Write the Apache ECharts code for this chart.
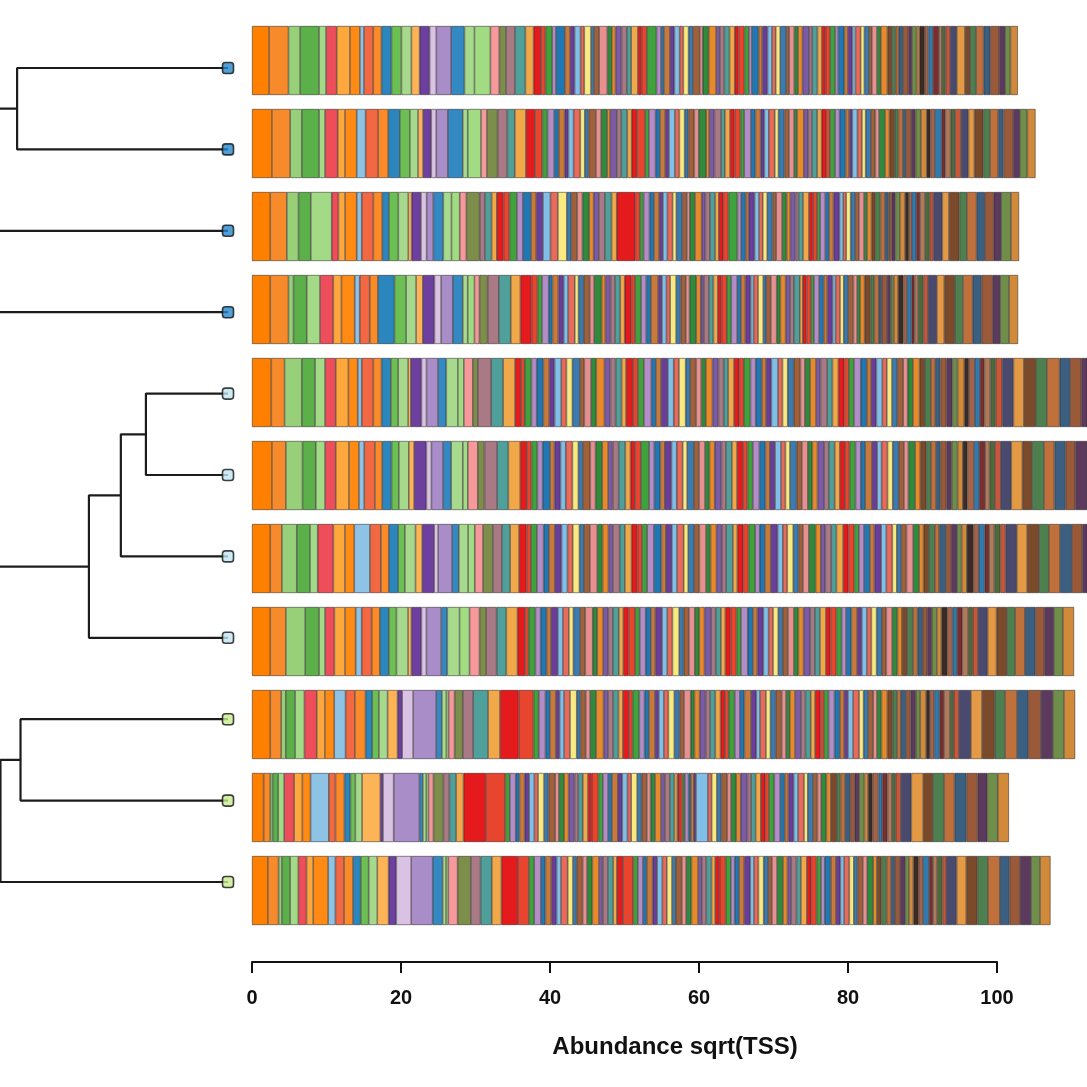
<!DOCTYPE html>
<html>
<head>
<meta charset="utf-8">
<title>Abundance sqrt(TSS)</title>
<script src="https://cdn.jsdelivr.net/npm/echarts@6/dist/echarts.min.js"></script>
<style>
html,body{margin:0;padding:0;background:#fff}
#main{width:1087px;height:1087px}
</style>
</head>
<body>
<div id="main"></div>
<script>
// x axis ticks
var tickValues=[0,20,40,60,80,100];
var axisTitle="Abundance sqrt(TSS)";

// dendrogram (hclust style merges, negative = leaf in plotted order)
var leafGroup=[0,0,0,0,1,1,1,1,2,2,2];
var merges=[[-1,-2],[-5,-6],[2,-7],[3,-8],[-9,-10],[5,-11],[1,-3],[7,-4],[4,6],[8,9]];
var mergeHeights=[0.925,0.36,0.47,0.61,0.91,0.998,1.06,1.12,1.08,1.25];

// taxa colours : first 23 read one by one, rest follow the figure's palette
var headColors=['#ff7f00','#f78b2c','#98d07a','#5cb04a','#a3da85','#ee4e5a','#fda73d','#ff8a14','#8ec3e6','#f26843','#fb8b28','#2c86be','#6cbf52','#a6d98c','#fdb456','#6d3f9e','#d9c2e3','#a98dc9','#3489c2','#a8da8d','#a2dc82','#f7989b','#7d8d4a'];
var brightColors=['#a97a86','#4f9f9a','#f0a848','#e41a1c','#e8452f','#3fa23c','#b48cc8','#1f78b4','#c97a3a','#6a3d9a','#7fbfe8','#e86a5a','#f8ea80','#3a7bb0','#a0603a','#e89090','#2f8a3a','#e8892a','#7b5aa6'];
var darkColors=['#7a4a2a','#4e7f4e','#c0703a','#3a5f80','#9a5a3a','#5c3a5e','#6e8e4a','#d08a3a','#3b2b25','#a5644a','#2f7aae','#7a2e2e','#b07a5a','#4d6b3a','#c8563a','#4a4a6e','#e49a45'];
var groupColors=['#2587cc','#c2e6f3','#c9ec90'];

// abundance of each taxon, one array per sample (top to bottom)
var s01=[2.3,2.6,1.56,2.54,0.94,1.43,1.78,1.34,0.54,1.25,1.1,1.34,1.34,1.34,1.1,1.34,0.9,2.0,1.78,1.34,2.14,1.2,0.9,
1.2,1.4,1.1,1.0,0.6,0.9,0.5,1.2,0.7,0.6, 0.8,0.5,0.9,0.4,0.7,1.1,0.6,0.5,0.8,0.7, 0.6,0.9,0.5,0.7,1.3,0.6,0.4,0.8,0.6,0.7, 0.5,0.7,0.6,0.9,0.4,0.8,1.0,0.5,0.6,0.7, 0.7,0.5,0.8,0.6,0.4,0.9,0.5,0.7,0.6,0.5,
0.6,0.8,0.4,0.7,0.5,0.6,0.9,0.4,0.7,0.6, 0.5,0.6,0.7,0.4,0.8,0.5,0.6,0.4,0.7,0.5, 0.6,0.4,0.7,0.5,0.9,0.6,0.5,0.4,0.6,0.7, 0.5,0.6,0.4,0.7,0.5,0.6,0.8,0.4,0.5,0.6, 0.9,1.1,0.7,0.8,1.0,0.9,1.2,0.8,0.7,1.0];
var s02=[2.68,2.45,1.56,2.32,0.8,1.7,0.98,1.56,1.2,1.7,1.34,1.56,1.34,1.1,0.67,1.1,0.67,1.56,2.0,0.67,1.78,0.8,1.43,
1.3,1.0,1.5,1.2,1.0,0.7,0.9,0.6,0.8,0.5, 0.7,0.9,0.6,0.5,1.0,0.7,0.8,0.4,0.9,0.6, 0.8,0.6,0.7,1.1,0.5,0.9,0.6,0.7,0.5,0.8, 0.6,0.7,0.5,0.8,0.6,1.0,0.4,0.7,0.9,0.5, 0.7,0.6,0.8,0.5,0.9,0.6,0.7,0.5,0.6,0.8,
0.5,0.8,0.6,0.7,0.4,0.9,0.6,0.5,0.7,0.6, 0.6,0.5,0.7,0.6,0.8,0.5,0.4,0.7,0.6,0.5, 0.7,0.6,0.5,0.8,0.6,0.7,0.5,0.6,0.4,0.7, 0.6,0.7,0.8,0.5,0.6,0.9,0.5,0.7,0.6,0.8, 1.0,0.8,1.2,0.9,1.1,0.7,1.3,0.9,1.0,1.1];
var s03=[2.45,2.23,1.56,1.65,2.81,0.9,0.9,1.56,0.67,1.56,1.2,0.9,1.25,1.34,0.45,1.25,0.76,0.9,1.34,1.1,1.1,0.9,1.78,
0.7,0.9,0.7,0.9,0.8,1.0,0.8,1.1,0.7,0.9, 1.0,1.0,1.2,0.6,0.8,0.7,0.9,0.6,0.7,0.8, 0.9,0.7,2.5,0.6,0.5,0.8,0.6,0.7,0.5,0.6, 0.7,0.5,0.8,0.6,0.4,0.7,0.9,0.5,0.6,0.7, 0.5,0.6,0.7,1.2,0.5,0.6,0.4,0.8,0.6,0.5,
0.6,0.7,0.5,0.8,0.6,0.5,0.7,0.4,0.6,0.8, 0.5,0.6,0.4,0.7,0.5,0.6,0.8,0.5,0.4,0.6, 0.6,0.5,0.7,0.4,0.6,0.5,0.7,0.6,0.5,0.4, 0.5,0.6,0.7,0.5,0.4,0.6,0.5,0.7,0.6,0.5, 1.2,0.9,1.4,1.0,1.3,1.1,1.2,1.0,1.3,1.1];
var s04=[2.45,2.45,0.67,1.78,1.78,1.78,1.1,1.78,0.67,1.34,1.1,2.23,1.56,1.34,0.9,1.56,0.9,1.56,1.34,0.67,0.9,0.67,1.1,
1.5,1.6,1.3,1.5,0.8,0.6,0.9,0.5,0.8,0.7, 0.6,0.9,0.5,0.7,0.8,0.6,1.0,0.5,0.7,0.6, 0.7,0.6,0.9,0.5,0.8,0.7,0.6,1.0,0.5,0.6, 0.5,0.8,0.6,0.7,0.5,0.9,0.6,0.4,0.7,0.6, 0.6,0.5,0.7,0.6,0.8,0.5,0.6,0.7,0.4,0.6,
0.7,0.4,0.6,0.8,0.5,0.7,0.6,0.5,0.8,0.4, 0.5,0.6,0.4,0.7,0.6,0.5,0.7,0.4,0.6,0.5, 0.6,0.7,0.5,0.4,0.6,0.8,0.5,0.6,0.4,0.7, 0.5,0.4,0.6,0.7,0.5,0.6,0.4,0.5,0.7,0.6, 1.2,1.0,1.4,1.1,1.3,1.2,1.5,1.0,1.2,1.2];
var s05=[2.59,1.78,2.32,1.78,1.34,1.43,1.7,1.25,0.54,1.56,1.1,1.25,0.98,1.34,0.36,1.43,0.67,1.56,1.1,1.56,0.8,1.2,0.67,
1.8,1.6,1.6,0.8,0.5,0.9,0.7,0.9,0.8,0.7, 0.9,0.7,0.8,1.0,0.6,0.9,0.7,1.1,0.8,0.7, 0.8,0.6,0.9,0.7,0.8,1.0,0.6,0.7,0.9,0.8, 0.7,0.9,0.6,0.8,0.7,0.6,0.9,0.8,0.7,0.6, 0.8,0.7,0.6,0.9,0.7,0.8,0.6,0.7,0.9,0.6,
0.7,0.8,0.9,0.6,0.7,0.8,0.6,0.9,0.7,0.8, 0.8,0.6,0.7,0.9,0.8,0.6,0.7,0.8,0.6,0.7, 0.7,0.8,0.6,0.7,0.9,0.7,0.8,0.6,0.7,0.8, 0.8,0.7,0.9,0.6,0.8,0.7,0.6,0.8,0.7,0.9, 1.5,1.4,1.6,1.5,1.7,1.4,1.5,1.6,1.5,1.6];
var s06=[2.68,1.87,2.23,1.78,1.25,1.43,1.78,1.34,0.71,1.43,0.98,1.25,0.98,1.34,0.71,1.65,0.67,1.56,1.1,1.56,0.67,1.34,0.9,
1.7,1.5,1.6,0.9,0.6,0.8,0.7,1.0,0.6,0.8, 0.7,0.9,0.8,0.6,1.0,0.7,0.9,0.8,0.6,0.8, 0.9,0.7,0.6,0.8,1.1,0.7,0.8,0.6,0.9,0.7, 0.8,0.6,0.9,0.7,0.8,0.6,0.7,0.9,0.6,0.8, 0.7,0.8,0.6,0.7,0.9,0.8,0.6,0.7,0.8,0.6,
0.6,0.9,0.7,0.8,0.6,0.7,0.9,0.6,0.8,0.7, 0.7,0.6,0.8,0.7,0.6,0.9,0.7,0.6,0.8,0.7, 0.8,0.7,0.6,0.9,0.7,0.8,0.6,0.7,0.6,0.8, 0.7,0.8,0.7,0.6,0.9,0.7,0.8,0.6,0.7,0.8, 1.4,1.5,1.3,1.6,1.4,1.5,1.3,1.6,1.4,1.5];
var s07=[2.45,1.56,2.0,1.78,1.03,2.1,1.56,1.25,2.1,1.47,1.07,1.25,0.9,1.43,0.9,1.6,0.54,1.87,0.9,1.25,0.9,1.1,1.34,
1.2,1.1,1.2,1.0,0.6,0.8,0.9,0.7,0.8,0.9, 0.8,0.7,0.9,0.6,0.8,1.0,0.7,0.8,0.6,0.9, 0.7,0.9,0.8,0.6,0.7,0.9,1.0,0.6,0.8,0.7, 0.9,0.6,0.8,0.7,0.9,0.6,0.8,0.7,0.6,0.9, 0.6,0.8,0.7,0.9,0.6,0.7,0.8,0.9,0.7,0.6,
0.8,0.7,0.6,0.8,0.9,0.7,0.6,0.8,0.7,0.9, 0.7,0.8,0.6,0.7,0.8,0.6,0.9,0.7,0.8,0.6, 0.6,0.7,0.9,0.8,0.6,0.7,0.8,0.6,0.9,0.7, 0.8,0.6,0.7,0.9,0.7,0.8,0.6,0.7,0.8,0.7, 1.5,1.4,1.6,1.3,1.5,1.6,1.4,1.5,1.4,1.6];
var s08=[2.45,2.1,2.59,1.87,0.8,1.25,1.43,1.43,0.8,1.34,1.1,1.2,1.03,1.56,0.45,1.34,0.67,2.0,0.8,1.65,1.34,1.34,0.9,
1.4,1.3,1.5,1.0,0.5,0.9,0.7,0.8,0.6,0.9, 0.7,0.8,0.6,0.9,0.7,1.0,0.6,0.8,0.7,0.6, 0.8,0.6,0.7,0.9,0.6,0.8,0.7,0.6,0.9,0.7, 0.7,0.9,0.6,0.7,0.8,0.6,0.7,0.9,0.6,0.7, 0.6,0.7,0.8,0.6,0.9,0.7,0.6,0.8,0.7,0.6,
0.7,0.6,0.7,0.8,0.6,0.7,0.9,0.6,0.7,0.8, 0.6,0.8,0.7,0.6,0.7,0.8,0.6,0.7,0.6,0.7, 0.7,0.6,0.8,0.7,0.6,0.7,0.8,0.6,0.7,0.6, 0.6,0.7,0.6,0.8,0.7,0.6,0.7,0.8,0.6,0.7, 1.3,1.2,1.4,1.1,1.3,1.4,1.2,1.3,1.2,1.5];
var s09=[2.45,1.47,0.62,1.25,1.25,1.65,1.1,1.25,1.52,1.25,1.43,0.9,0.9,1.16,1.34,0.62,1.47,3.1,0.76,0.6,0.3,0.8,1.1,
1.4,2.0,1.6,2.5,2.0,0.7,0.9,0.6,0.8,0.5, 0.6,0.8,0.9,0.5,0.7,0.6,0.8,1.0,0.6,0.7, 0.7,0.6,0.8,0.5,0.9,0.7,0.6,0.8,0.5,0.7, 0.6,0.8,0.7,0.6,0.9,0.5,0.7,0.8,0.6,0.7, 0.7,0.6,0.5,0.8,0.7,0.6,0.9,0.7,0.5,0.8,
0.6,0.7,0.8,0.6,0.5,0.7,0.8,0.6,0.7,0.6, 0.7,0.5,0.6,0.8,0.7,0.6,0.5,0.7,0.8,0.6, 0.6,0.7,0.5,0.6,0.8,0.7,0.6,0.5,0.7,0.6, 0.7,0.6,0.8,0.5,0.6,0.7,0.6,0.8,0.5,0.7, 1.6,1.5,1.7,1.4,1.6,1.5,1.7,1.6,1.5,1.5];
var s10=[1.56,0.9,0.3,0.76,0.8,1.34,1.1,1.1,2.45,0.9,1.2,0.8,0.67,0.9,2.45,0.36,1.43,3.46,0.45,0.46,0.3,0.67,1.34,
0.8,0.9,1.0,3.0,2.6,0.6,0.8,0.5,0.7,0.6, 0.7,0.5,0.8,0.6,0.9,0.5,0.7,0.6,0.8,0.5, 0.6,0.7,0.5,0.9,0.6,0.7,0.5,0.8,0.6,0.7, 0.5,0.8,0.6,0.7,0.5,0.6,0.8,0.5,0.7,0.6, 0.4,0.3,0.4,0.3,0.5,0.3,0.4,0.3,1.6,0.5,
0.7,0.6,0.8,0.5,0.7,0.6,0.9,0.5,0.6,0.7, 0.6,0.5,0.7,0.8,0.6,0.5,0.7,0.6,0.8,0.5, 0.7,0.6,0.5,0.7,0.6,0.8,0.5,0.6,0.7,0.6, 0.6,0.7,0.5,0.6,0.8,0.5,0.7,0.6,0.5,0.7, 1.4,1.6,1.3,1.5,1.4,1.6,1.5,1.3,1.4,1.5];
var s11=[2.14,1.43,0.45,1.1,1.1,1.1,0.9,2.0,0.98,1.16,1.2,1.03,1.07,1.16,1.52,1.03,2.0,2.88,1.34,0.46,0.3,1.25,1.78,
1.3,1.5,1.3,2.2,1.5,0.7,0.9,0.6,0.8,0.7, 0.6,0.9,0.7,0.5,0.8,0.6,0.7,0.9,0.5,0.7, 0.7,0.5,0.8,1.4,0.6,0.7,0.5,0.8,0.6,0.7, 0.6,0.7,0.5,0.8,0.6,0.7,0.9,0.5,0.6,0.7, 0.5,0.6,0.8,0.7,0.5,0.6,0.7,0.8,0.5,0.6,
0.7,0.6,0.5,0.7,0.8,0.6,0.5,0.7,0.6,0.8, 0.6,0.7,0.6,0.5,0.8,0.7,0.6,0.5,0.7,0.6, 0.5,0.7,0.6,0.8,0.5,0.6,0.7,0.6,0.5,0.7, 0.7,0.5,0.6,0.7,0.6,0.8,0.5,0.6,0.7,0.5, 1.4,1.3,1.5,1.4,1.6,1.3,1.4,1.5,1.2,1.4];

var samples=[s01,s02,s03,s04,s05,s06,s07,s08,s09,s10,s11];
var sampleNames=samples.map(function(s,i){return 'S'+(i+1);});
var taxaCount=s01.length;

function taxonColor(i){
    if(i<headColors.length) return headColors[i];
    var k=i-headColors.length;
    if(k<75) return brightColors[k%brightColors.length];
    return darkColors[(k-75)%darkColors.length];
}

var series=[];
// stacked bars, one series per taxon
for(var i=0;i<taxaCount;i++){
    series.push({
        type:'bar',
        stack:'tax',
        xAxisIndex:0,
        yAxisIndex:0,
        barWidth:69,
        silent:true,
        animation:false,
        data:samples.map(function(s){return s[i];}),
        itemStyle:{color:taxonColor(i),borderColor:'rgba(35,30,30,0.85)',borderWidth:0.6}
    });
}

// dendrogram branches
var nodeY=[];
function nodePos(ref){
    if(ref<0) return [0,-ref];
    return [mergeHeights[ref-1],nodeY[ref-1]];
}
merges.forEach(function(m,j){
    var a=nodePos(m[0]),b=nodePos(m[1]),h=mergeHeights[j];
    nodeY[j]=(a[1]+b[1])/2;
    series.push({
        type:'line',
        xAxisIndex:2,
        yAxisIndex:2,
        symbol:'none',
        silent:true,
        animation:false,
        clip:true,
        lineStyle:{color:'#1c1c1c',width:2.2},
        data:[[a[0],a[1]],[h,a[1]],[h,b[1]],[b[0],b[1]]]
    });
});

// leaf markers
series.push({
    type:'scatter',
    xAxisIndex:2,
    yAxisIndex:2,
    symbol:'roundRect',
    symbolSize:11,
    clip:false,
    silent:true,
    animation:false,
    z:5,
    data:leafGroup.map(function(g,i){
        return {value:[0,i+1],itemStyle:{color:groupColors[g],borderColor:'#111',borderWidth:1.6}};
    })
});

// holder for the visible 0-100 axis
series.push({type:'scatter',xAxisIndex:1,yAxisIndex:1,data:[],silent:true});

var option={
    animation:false,
    backgroundColor:'#fff',
    textStyle:{fontFamily:'Liberation Sans, Arial, sans-serif'},
    grid:[
        {left:252,right:0,top:19,height:913},
        {left:252,width:745,top:19,height:943},
        {left:0,width:228,top:27.3,height:895.4}
    ],
    xAxis:[
        {gridIndex:0,type:'value',min:0,max:112.08,show:false},
        {gridIndex:1,type:'value',min:tickValues[0],max:tickValues[tickValues.length-1],interval:tickValues[1]-tickValues[0],
            axisLine:{show:true,lineStyle:{color:'#111',width:2}},
            axisTick:{show:true,length:11,lineStyle:{color:'#111',width:2}},
            axisLabel:{show:true,margin:26,fontSize:20,fontWeight:'bold',color:'#111',showMinLabel:true,showMaxLabel:true},
            splitLine:{show:false}},
        {gridIndex:2,type:'value',min:0,max:1,inverse:true,show:false}
    ],
    yAxis:[
        {gridIndex:0,type:'category',data:sampleNames,inverse:true,show:false},
        {gridIndex:1,type:'value',min:0,max:1,show:false},
        {gridIndex:2,type:'value',min:0.5,max:11.5,inverse:true,show:false}
    ],
    graphic:[{
        type:'text',
        x:675,
        y:1047,
        style:{text:axisTitle,fill:'#111',font:'bold 24px "Liberation Sans", Arial, sans-serif',textAlign:'center',textVerticalAlign:'middle'}
    }],
    series:series
};

var myChart=echarts.init(document.getElementById('main'));
myChart.setOption(option);
</script>
</body>
</html>
